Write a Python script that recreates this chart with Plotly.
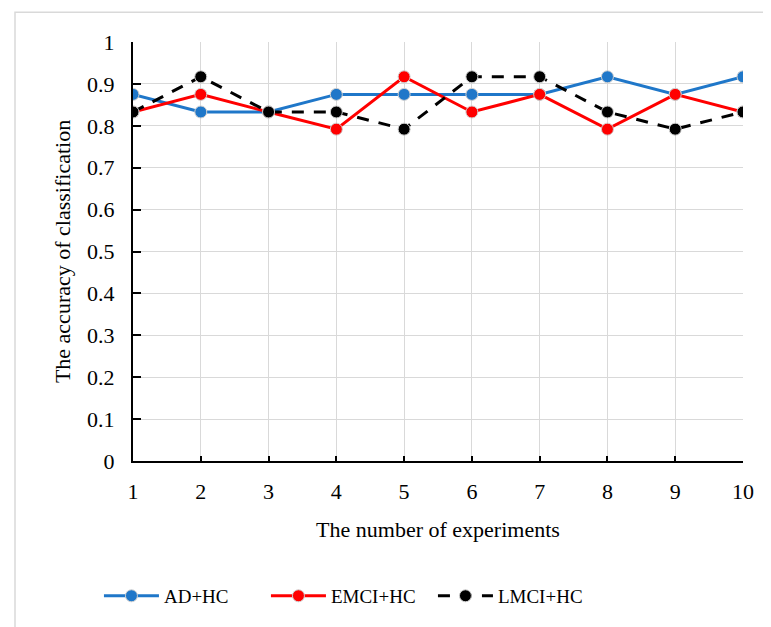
import plotly.graph_objects as go

experiments = [1, 2, 3, 4, 5, 6, 7, 8, 9, 10]
ad_hc = [0.875, 0.833, 0.833, 0.875, 0.875, 0.875, 0.875, 0.917, 0.875, 0.917]
emci_hc = [0.833, 0.875, 0.833, 0.792, 0.917, 0.833, 0.875, 0.792, 0.875, 0.833]
lmci_hc = [0.833, 0.917, 0.833, 0.833, 0.792, 0.917, 0.917, 0.833, 0.792, 0.833]
y_ticks = [0, 0.1, 0.2, 0.3, 0.4, 0.5, 0.6, 0.7, 0.8, 0.9, 1]
y_tick_labels = ["0", "0.1", "0.2", "0.3", "0.4", "0.5", "0.6", "0.7", "0.8", "0.9", "1"]

FONT = "Liberation Serif"
mk_line = dict(color="#d0d0d0", width=1)

fig = go.Figure()
fig.add_trace(go.Scatter(x=experiments, y=ad_hc, name="AD+HC", mode="lines+markers",
                         line=dict(color="#1f77c9", width=3),
                         marker=dict(size=12, color="#1f77c9", line=mk_line)))
fig.add_trace(go.Scatter(x=experiments, y=emci_hc, name="EMCI+HC", mode="lines+markers",
                         line=dict(color="#ff0000", width=3),
                         marker=dict(size=12, color="#ff0000", line=mk_line)))
fig.add_trace(go.Scatter(x=experiments, y=lmci_hc, name="LMCI+HC", mode="lines+markers",
                         line=dict(color="#000000", width=3, dash="12px,10px"),
                         marker=dict(size=12, color="#000000", line=mk_line)))

fig.update_layout(
    width=763, height=619,
    margin=dict(l=125, r=28, t=34, b=163),
    paper_bgcolor="white", plot_bgcolor="white",
    font=dict(family=FONT, size=22, color="black"),
    showlegend=True,
    legend=dict(orientation="h", x=(102 - 133) / 610 - 0.005, xanchor="left",
                y=-0.322, yanchor="middle",
                font=dict(family=FONT, size=19, color="black"), itemwidth=55,
                entrywidth=97, tracegroupgap=0),
    xaxis=dict(range=[1, 10], tickmode="array", tickvals=experiments,
               ticktext=[str(v) for v in experiments],
               tickfont=dict(family=FONT, size=22, color="black"),
               ticklabelstandoff=10,
               showgrid=True, gridcolor="#d9d9d9", gridwidth=1,
               showline=True, linecolor="black", linewidth=2,
               ticks="inside", ticklen=5, tickcolor="black", tickwidth=2,
               zeroline=False, title=dict(text="The number of experiments", standoff=18,
                                          font=dict(family=FONT, size=22, color="black"))),
    yaxis=dict(range=[0, 1], tickmode="array", tickvals=y_ticks, ticktext=y_tick_labels,
               tickfont=dict(family=FONT, size=22, color="black"),
               ticklabelstandoff=12,
               showgrid=True, gridcolor="#d9d9d9", gridwidth=1,
               showline=True, linecolor="black", linewidth=2,
               ticks="inside", ticklen=8, tickcolor="black", tickwidth=2,
               zeroline=False, title=dict(text="The accuracy of classification", standoff=10,
                                          font=dict(family=FONT, size=22, color="black"))),
)

# outer chart border (light gray), extends beyond the visible image on right/bottom
fig.add_shape(type="rect", xref="paper", yref="paper",
              x0=(15 - 133) / 610, x1=1.3, y0=-0.6, y1=(464 - 12) / 422,
              line=dict(color="#d9d9d9", width=1.5), layer="below")

fig.write_html("out.html")
